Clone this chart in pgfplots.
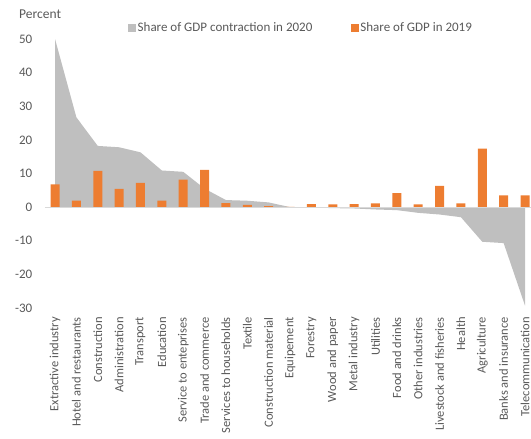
\documentclass[border=0pt]{standalone}
\usepackage{fontspec}
\setmainfont{Carlito}
\usepackage{pgfplots}
\pgfplotsset{compat=1.18}
\usepackage{pgfplotstable}

\definecolor{barorange}{HTML}{ED7D31}
\definecolor{areagray}{HTML}{BFBFBF}
\definecolor{txtgray}{HTML}{595959}
\definecolor{axisgray}{HTML}{D9D9D9}

% idx  contraction 2020  share 2019
\pgfplotstableread{
idx contr share
0   50.0  6.8
1   26.7  1.9
2   18.2  10.8
3   17.8  5.4
4   16.3  7.2
5   10.9  1.9
6   10.5  8.2
7   5.5   11.1
8   2.1   1.2
9   1.9   0.7
10  1.4   0.3
11  0.0   0.05
12  -0.1  0.9
13  -0.3  0.8
14  -0.4  0.9
15  -0.7  1.1
16  -0.9  4.2
17  -1.7  0.8
18  -2.2  6.3
19  -3.0  1.1
20  -10.3 17.4
21  -10.7 3.5
22  -29.3 3.5
}\sectors

\begin{document}
\begin{tikzpicture}
\path[use as bounding box] (-45pt,-131pt) rectangle (486pt,308pt);
\begin{axis}[
    scale only axis,
    width=486pt, height=269pt,
    xmin=-0.47, xmax=22.28,
    ymin=-30, ymax=50,
    ytick={-30,-20,...,50},
    xtick={0,...,22},
    xticklabels={Extractive industry, Hotel and restaurants, Construction,
      Administration, Transport, Education, Service to enteprises,
      Trade and commerce, Services to households, Textile,
      Construction material, Equipement, Forestry, Wood and paper,
      Metal industry, Utilities, Food and drinks, Other industries,
      Livestock and fisheries, Health, Agriculture, Banks and insurance,
      Telecommunication},
    axis line style={draw=none},
    major tick length=0pt,
    /pgf/number format/assume math mode=true,
    tick label style={font=\fontsize{13}{15}\selectfont, text=txtgray},
    yticklabel style={inner sep=0pt, xshift=-12.5pt},
    xticklabel style={rotate=90, anchor=east, inner sep=0pt,
      font=\fontsize{12.5}{14}\selectfont},
    xticklabel shift=9pt,
    legend columns=2,
    legend image code/.code={\fill (0pt,-4pt) rectangle (8pt,4pt);},
    legend style={draw=none, fill=none, inner sep=0pt,
      at={(0.1708,1.0409)}, anchor=west,
      font=\fontsize{13}{15}\selectfont, text=txtgray,
      nodes={inner sep=1.5pt},
      /tikz/every even column/.append style={column sep=37pt}},
]
\addplot[fill=areagray, draw=none] table[x=idx, y=contr] {\sectors} \closedcycle;
\addlegendentry{Share of GDP contraction in 2020}
\addplot[ybar, bar width=9pt, fill=barorange, draw=none] table[x=idx, y=share] {\sectors};
\addlegendentry{Share of GDP in 2019}
\draw[axisgray, line width=1pt] (axis cs:-0.47,0) -- (axis cs:22.28,0);
\end{axis}
\node[anchor=west, inner sep=0pt, text=txtgray, font=\fontsize{13.5}{15}\selectfont] at (-26pt,294pt) {Percent};
\end{tikzpicture}
\end{document}
